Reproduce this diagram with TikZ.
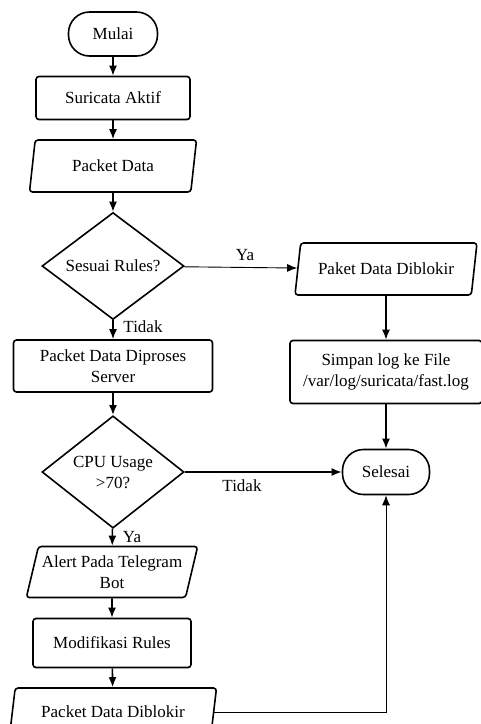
\documentclass[tikz,border=0pt]{standalone}
\usepackage{fontspec}
\setmainfont{Liberation Serif}
\usetikzlibrary{shapes.geometric,arrows.meta}
\tikzset{
  terminal/.style={draw, rounded corners=21pt, minimum width=89pt, minimum height=44pt, line width=1.6pt},
  proses/.style={draw, rounded corners=3pt, line width=1.6pt, align=center},
  datanode/.style={draw, trapezium, trapezium left angle=73, trapezium right angle=107,
    trapezium stretches body, rounded corners=3pt, line width=1.6pt, align=center},
  keputusan/.style={draw, diamond, line width=1.6pt, align=center, inner sep=0pt,
    minimum width=142pt, minimum height=104pt},
  panah/.style={-{Latex[length=10pt,width=8pt]}, line width=1.6pt},
  panahtipis/.style={-{Latex[length=10pt,width=8pt]}, line width=0.9pt},
}
\begin{document}
\begin{tikzpicture}[x=1pt, y=-1pt, font=\fontsize{17}{21}\selectfont]
        \useasboundingbox (0,0) rectangle (480,724);
        % Columna izquierda
        \node[terminal] (mulai) at (113,34) {Mulai};
        \node[proses, minimum width=154pt, minimum height=43pt] (aktif) at (113,98) {Suricata Aktif};
        \node[datanode, minimum width=167pt, minimum height=52pt] (packet) at (113,166) {Packet Data};
        \node[keputusan] (rules) at (113,266) {Sesuai Rules?};
        \node[proses, minimum width=199pt, minimum height=52pt] (diproses) at (113,366) {Packet Data Diproses\\Server};
        \node[keputusan, minimum height=105pt] (cpu) at (113,472) {CPU Usage\\>70?};
        \node[datanode, minimum width=167pt, minimum height=51pt] (alert) at (112,572) {Alert Pada Telegram\\Bot};
        \node[proses, minimum width=158pt, minimum height=49pt] (modif) at (112,643) {Modifikasi Rules};
        \node[datanode, minimum width=207pt, minimum height=48pt] (blokir) at (113,712) {Packet Data Diblokir};
        % Columna derecha
        \node[datanode, minimum width=182pt, minimum height=52pt] (paket) at (386,269) {Paket Data Diblokir};
        \node[proses, minimum width=192pt, minimum height=63pt] (simpan) at (386,372) {Simpan log ke File\\/var/log/suricata/fast.log};
        \node[terminal, minimum width=87pt, minimum height=45pt] (selesai) at (386,472) {Selesai};
        % Etiquetas
        \node (ya1) at (245,255) {Ya};
        \node (tidak1) at (143,327) {Tidak};
        \node (tidak2) at (242,486) {Tidak};
        \node (ya2) at (132,537) {Ya};
        % Flechas
        \draw[panah] (mulai) -- (aktif);
        \draw[panah] (aktif) -- (packet);
        \draw[panah] (packet) -- (rules);
        \draw[panahtipis] (rules) -- (paket);
        \draw[panah] (rules) -- (diproses);
        \draw[panah] (paket) -- (simpan);
        \draw[panah] (simpan) -- (selesai);
        \draw[panah] (diproses) -- (cpu);
        \draw[panah] (cpu) -- (selesai);
        \draw[panah] (cpu) -- (alert);
        \draw[panah] (alert) -- (modif);
        \draw[panah] (modif) -- (blokir);
        \draw[panahtipis] (blokir.east) -| (selesai.south);
    \end{tikzpicture}
\end{document}
